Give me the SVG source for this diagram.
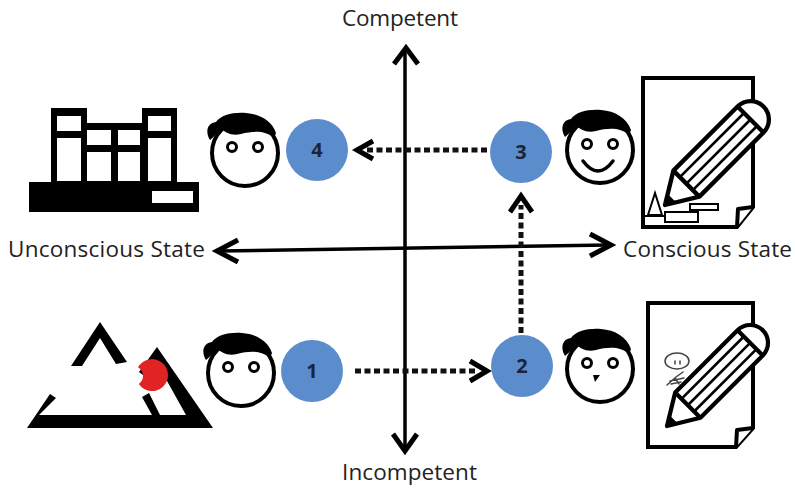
<svg xmlns="http://www.w3.org/2000/svg" width="795" height="489" viewBox="0 0 795 489">
<defs>
<style>
.lbl{font-family:"Open Sans","Liberation Sans",sans-serif;font-size:22.5px;fill:#222}
.num{font-family:"Open Sans","Liberation Sans",sans-serif;font-size:20px;font-weight:bold;fill:#1c2438;text-anchor:middle}
.badge{fill:#5b8dcd}
.axis{stroke:#000;stroke-width:3.5;fill:none}
.head{stroke:#000;stroke-width:5;fill:none;stroke-linejoin:miter}
.dots{stroke:#111;stroke-width:5;stroke-dasharray:6 3.5;fill:none}
.thin{stroke:#000;stroke-width:2;fill:#fff}
.doodle{stroke:#444;stroke-width:1.5;fill:none;stroke-linecap:round}
</style>
<!-- cartoon head: outline, hair and ring eyes -->
<g id="face">
  <circle r="33" fill="#fff" stroke="#000" stroke-width="4"/>
  <path d="M-35,-13 C-40,-21 -38,-30 -29,-31 C-24,-38 -12,-41 1,-40 C15,-39 27,-32 31,-20 L29,-15 C20,-23 8,-22 -4,-19 C-13,-17 -20,-20 -24,-25 C-27,-21 -30,-17 -35,-13 Z" fill="#000"/>
  <circle cx="-13" cy="-6" r="4.5" fill="#fff" stroke="#000" stroke-width="3"/>
  <circle cx="13" cy="-6" r="4.5" fill="#fff" stroke="#000" stroke-width="3"/>
</g>
<!-- pencil laid along +x, tip at origin -->
<g id="pencil">
  <path d="M28,-17 L112,-17 A17,17 0 0 1 112,17 L28,17 L0,0 Z" fill="#fff" stroke="#000" stroke-width="4" stroke-linejoin="round"/>
  <path d="M28,-17 V17 M112,-17 V17" stroke="#000" stroke-width="4"/>
  <path d="M28,-8.5 H112 M28,0 H112 M28,8.5 H112" stroke="#000" stroke-width="2.5"/>
  <path d="M0,0 L9,-5.5 L9,5.5 Z" fill="#000"/>
</g>
</defs>
<rect width="795" height="489" fill="#fff"/>

<!-- axes and progression arrows -->
<g id="connectors">
  <line class="axis" x1="405" y1="50" x2="405" y2="449"/>
  <polyline class="head" points="394,64 406,48 418,64"/>
  <polyline class="head" points="393,434 405,451 417,434"/>
  <line class="axis" x1="218" y1="251" x2="609" y2="245"/>
  <polyline class="head" points="238,240 217,251 238,262"/>
  <polyline class="head" points="590,234 611,245 590,256"/>

  <line class="dots" x1="355" y1="371" x2="478" y2="371"/>
  <polyline class="head" points="470,361 487,371 470,381"/>
  <line class="dots" x1="521" y1="333" x2="521" y2="205"/>
  <polyline class="head" points="510,212 521,196 532,212"/>
  <line class="dots" x1="487" y1="150" x2="364" y2="150"/>
  <polyline class="head" points="373,141 357,150 373,159"/>
</g>

<!-- axis labels -->
<g id="labels">
  <text class="lbl" x="342" y="26" textLength="116">Competent</text>
  <text class="lbl" x="342" y="480" textLength="135">Incompetent</text>
  <text class="lbl" x="8" y="257" textLength="197">Unconscious State</text>
  <text class="lbl" x="623" y="257" textLength="169">Conscious State</text>
</g>

<!-- stage 1: unconscious incompetence -->
<g id="stage-1">
  <path d="M100,322 L127,362 L116,364 L100,338 L82,366 L71,366 Z" fill="#000"/>
  <path d="M50,394 L27,428 L213,428 L157,347 L139,372 L147,378 L162,372 L186,415 L160,415 L149,393 L142,397 L152,415 L39,415 L56,398 Z" fill="#000"/>
  <path d="M138,367.3 A16,16 0 1 1 138.8,384.1 A10,10 0 0 0 138,367.3 Z" fill="#e02424"/>
  <use href="#face" x="241" y="373"/>
  <circle class="badge" cx="312" cy="371" r="31"/>
  <text class="num" x="312" y="378">1</text>
</g>

<!-- stage 2: conscious incompetence -->
<g id="stage-2">
  <circle class="badge" cx="522" cy="366" r="31"/>
  <text class="num" x="522" y="373">2</text>
  <use href="#face" x="600" y="369"/>
  <path d="M593,375 L600,375 L595,382 Z" fill="#000"/>
  <path d="M648,303 H753 V428 L736,447 H648 Z" fill="#fff" stroke="#000" stroke-width="4"/>
  <path d="M753,428 L737,430 L736,447" fill="#fff" stroke="#000" stroke-width="4" stroke-linejoin="round"/>
  <ellipse class="doodle" cx="677" cy="361" rx="12" ry="8"/>
  <path class="doodle" d="M675,361 V364 M680,361 V364 M667,385 L676,377 L683,372 M670,381 L684,378 M675,378 L679,384 M671,384 L681,382"/>
  <use href="#pencil" transform="translate(667,426) rotate(-45) scale(1.05)"/>
</g>

<!-- stage 3: conscious competence -->
<g id="stage-3">
  <circle class="badge" cx="521" cy="152" r="31"/>
  <text class="num" x="521" y="159">3</text>
  <use href="#face" x="600" y="150"/>
  <path d="M583,161 Q598,181 613,161" fill="none" stroke="#000" stroke-width="3.5" stroke-linecap="round"/>
  <path d="M643,78 H753 V207 L737,227 H643 Z" fill="#fff" stroke="#000" stroke-width="4"/>
  <path d="M753,207 L738,209 L737,227" fill="#fff" stroke="#000" stroke-width="4" stroke-linejoin="round"/>
  <path class="thin" d="M648,215 L655,193 L662,215 Z M644,216 H665"/>
  <rect class="thin" x="665" y="212" width="33" height="10"/>
  <rect class="thin" x="690" y="204" width="28" height="6"/>
  <use href="#pencil" transform="translate(665,205) rotate(-45) scale(1.08)"/>
</g>

<!-- stage 4: unconscious competence -->
<g id="stage-4">
  <path d="M51,108 H87 V123 H142 V108 H177 V182 H51 Z" fill="#000"/>
  <rect x="29" y="182" width="170" height="30" fill="#000"/>
  <g fill="#fff">
    <rect x="57" y="116" width="24" height="15"/>
    <rect x="57" y="138" width="24" height="43"/>
    <rect x="87" y="130" width="24" height="15"/>
    <rect x="87" y="152" width="24" height="29"/>
    <rect x="118" y="130" width="22" height="15"/>
    <rect x="118" y="152" width="22" height="29"/>
    <rect x="148" y="116" width="23" height="15"/>
    <rect x="148" y="138" width="23" height="43"/>
    <rect x="152" y="191" width="41" height="12"/>
  </g>
  <use href="#face" x="245" y="153"/>
  <circle class="badge" cx="317" cy="150" r="31"/>
  <text class="num" x="317" y="157">4</text>
</g>
</svg>
